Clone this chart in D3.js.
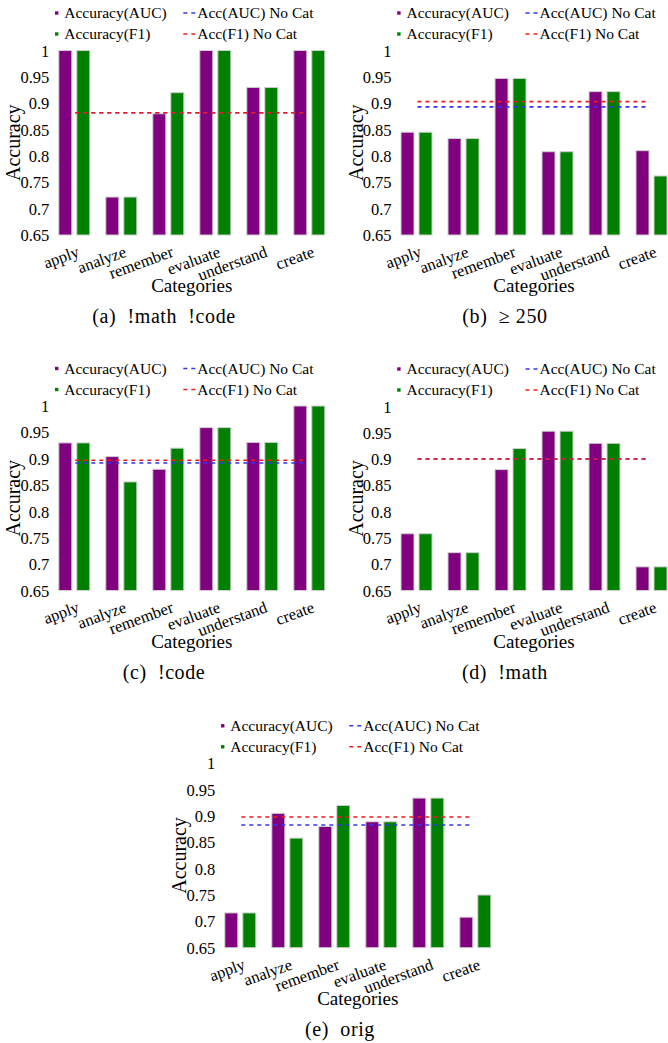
<!DOCTYPE html>
<html>
<head>
<meta charset="utf-8">
<script src="https://cdn.jsdelivr.net/npm/d3@7"></script>
<style>
  html, body { margin: 0; padding: 0; background: #fff; }
  svg { display: block; }
  text { font-family: "Liberation Serif", "Times New Roman", serif; fill: #000; }
</style>
</head>
<body>
<svg id="chart" width="668" height="1043"></svg>
<script>
// ---------- data ----------
const categories = ["apply", "analyze", "remember", "evaluate", "understand", "create"];
const seriesNames = ["Accuracy(AUC)", "Accuracy(F1)"];
const lineNames = ["Acc(AUC) No Cat", "Acc(F1) No Cat"];
const captions = ["(a)  !math  !code", "(b)  \u2265 250", "(c)  !code", "(d)  !math", "(e)  orig"];
const yTicks = [0.65, 0.7, 0.75, 0.8, 0.85, 0.9, 0.95, 1];
const yTickLabels = ["0.65", "0.7", "0.75", "0.8", "0.85", "0.9", "0.95", "1"];

const aucA = [1, 0.722, 0.88, 1, 0.93, 1];
const f1A  = [1, 0.722, 0.92, 1, 0.93, 1];
const aucB = [0.845, 0.833, 0.947, 0.808, 0.922, 0.81];
const f1B  = [0.845, 0.833, 0.947, 0.808, 0.922, 0.762];
const aucC = [0.93, 0.904, 0.88, 0.959, 0.931, 1];
const f1C  = [0.93, 0.856, 0.92, 0.959, 0.931, 1];
const aucD = [0.758, 0.722, 0.88, 0.953, 0.93, 0.695];
const f1D  = [0.758, 0.722, 0.92, 0.953, 0.93, 0.695];
const aucE = [0.716, 0.905, 0.88, 0.889, 0.934, 0.708];
const f1E  = [0.716, 0.858, 0.92, 0.889, 0.934, 0.75];
const noCatAUC = [0.882, 0.893, 0.892, 0.9, 0.883];
const noCatF1  = [0.882, 0.903, 0.897, 0.9, 0.898];

const aucAll = [aucA, aucB, aucC, aucD, aucE];
const f1All = [f1A, f1B, f1C, f1D, f1E];

// ---------- layout ----------
const layout = [
  { L: 58.3,  top: 50.5,  bottom: 235,   capX: 164 },
  { L: 400.5, top: 50.5,  bottom: 235,   capX: 505 },
  { L: 58.3,  top: 406,   bottom: 590.5, capX: 164 },
  { L: 400.5, top: 406.5, bottom: 590.5, capX: 505 },
  { L: 224.3, top: 763.3, bottom: 947.7, capX: 340 }
];
const plotW = 267;
const colors = { auc: "#800080", f1: "#008000", lauc: "#3535f0", lf1: "#f01c1c" };

const svg = d3.select("#chart");

layout.forEach((p, i) => {
  const g = svg.append("g");
  const x0 = d3.scaleBand().domain(categories).range([p.L, p.L + plotW])
    .paddingInner(0.319).paddingOuter(0);
  const x1 = d3.scaleBand().domain(seriesNames).range([0, x0.bandwidth()]).paddingInner(0.222);
  const y = d3.scaleLinear().domain([0.65, 1]).range([p.bottom, p.top]);

  // y axis (labels only)
  const yAxis = d3.axisLeft(y).tickValues(yTicks)
    .tickFormat((d, k) => yTickLabels[k]).tickSize(0).tickPadding(0);
  const ya = g.append("g").attr("transform", `translate(${p.L - 9},0)`).call(yAxis);
  ya.select(".domain").remove();
  ya.selectAll("text").attr("font-size", 16.5).attr("dy", "0.34em");

  // x axis labels (rotated)
  const xAxis = d3.axisBottom(x0).tickSize(0).tickPadding(0);
  const xa = g.append("g").attr("transform", `translate(0,${p.bottom + 10})`).call(xAxis);
  xa.select(".domain").remove();
  xa.selectAll("text")
    .attr("font-size", 16.5)
    .attr("text-anchor", "end")
    .attr("y", 0).attr("dy", "0.72em")
    .attr("transform", "translate(2,0) rotate(-20)");

  // bars
  const rows = categories.map((c, k) => ({ c, vals: [aucAll[i][k], f1All[i][k]] }));
  const grp = g.selectAll(".grp").data(rows).enter().append("g")
    .attr("transform", d => `translate(${x0(d.c)},0)`);
  grp.selectAll("rect").data(d => d.vals.map((v, s) => ({ v, s: seriesNames[s] })))
    .enter().append("rect")
    .attr("x", d => x1(d.s) + 0.5)
    .attr("width", x1.bandwidth() - 1)
    .attr("y", d => y(d.v))
    .attr("height", d => p.bottom - y(d.v))
    .attr("fill", d => d.s === seriesNames[0] ? colors.auc : colors.f1)
    .attr("stroke", "#d0d0d0").attr("stroke-width", 1);

  // no-cat lines
  const xs = x0(categories[0]) + x0.bandwidth() / 2 + 1;
  const xe = x0(categories[categories.length - 1]) + x0.bandwidth() / 2 - 2;
  [[noCatAUC[i], colors.lauc], [noCatF1[i], colors.lf1]].forEach(([v, col]) => {
    g.append("line").attr("x1", xs).attr("x2", xe)
      .attr("y1", y(v)).attr("y2", y(v))
      .attr("stroke", col).attr("stroke-width", 1.6)
      .attr("stroke-dasharray", "4,4");
  });

  // legend
  const r1 = p.top - 37.5, r2 = p.top - 16.5;
  const leg = g.append("g");
  [[r1, colors.auc, seriesNames[0]], [r2, colors.f1, seriesNames[1]]].forEach(([ry, col, t]) => {
    leg.append("rect").attr("x", p.L - 3.3).attr("y", ry - 1.7).attr("width", 3.4).attr("height", 3.4).attr("fill", col);
    leg.append("text").attr("x", p.L + 6).attr("y", ry + 5).attr("font-size", 15.5).text(t);
  });
  [[r1, colors.lauc, lineNames[0]], [r2, colors.lf1, lineNames[1]]].forEach(([ry, col, t]) => {
    leg.append("line").attr("x1", p.L + 125).attr("x2", p.L + 137).attr("y1", ry).attr("y2", ry)
      .attr("stroke", col).attr("stroke-width", 1.5).attr("stroke-dasharray", "4,4");
    leg.append("text").attr("x", p.L + 139).attr("y", ry + 5).attr("font-size", 15.5).text(t);
  });

  // axis titles
  g.append("text").attr("transform", `translate(${p.L - 38},${(p.top + p.bottom) / 2}) rotate(-90)`)
    .attr("text-anchor", "middle").attr("font-size", 20).text("Accuracy");
  g.append("text").attr("x", p.L + plotW / 2).attr("y", p.bottom + 57)
    .attr("text-anchor", "middle").attr("font-size", 19).text("Categories");

  // caption
  g.append("text").attr("x", p.capX).attr("y", p.bottom + 88)
    .attr("text-anchor", "middle").attr("font-size", 20).attr("letter-spacing", 0.6)
    .style("white-space", "pre").text(captions[i]);
});
</script>
</body>
</html>
